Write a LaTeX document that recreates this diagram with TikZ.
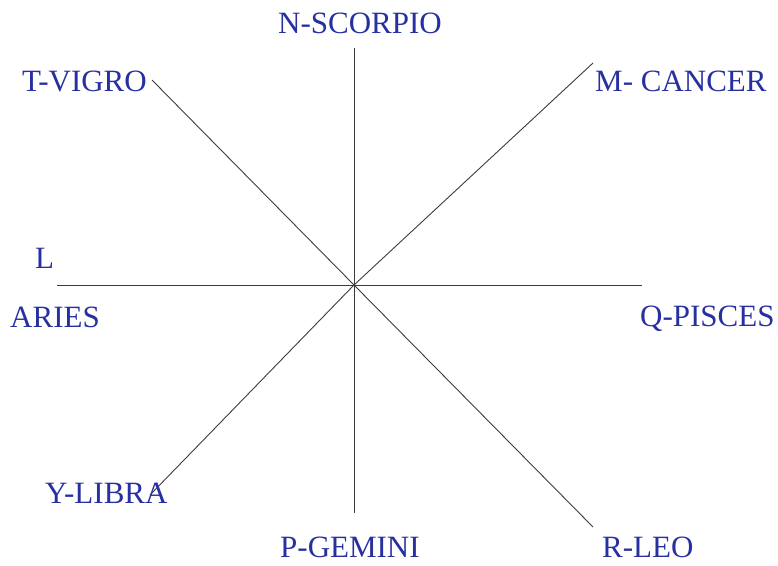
\documentclass[tikz,border=0pt]{standalone}
\usepackage{fontspec}
\setmainfont{Liberation Serif}
\definecolor{lbl}{RGB}{38,48,160}
\definecolor{ln}{RGB}{60,60,60}
\begin{document}
\begin{tikzpicture}[x=1pt,y=-1pt,
  lab/.style={anchor=base west,inner sep=0pt,text=lbl,font=\fontsize{31}{36}\selectfont},
  spoke/.style={draw=ln,line width=0.9pt}]
\useasboundingbox (0,0) rectangle (778,565);
\coordinate (c) at (354,285);
\coordinate (eN) at (354,48);
\coordinate (eS) at (354,513);
\coordinate (eW) at (57,285);
\coordinate (eE) at (642,285);
\coordinate (eNW) at (152,80);
\coordinate (eNE) at (593,63);
\coordinate (eSW) at (150,495);
\coordinate (eSE) at (593,527);
\foreach \e in {eN,eS,eW,eE,eNW,eNE,eSW,eSE} \draw[spoke] (c) -- (\e);
\node[lab] (n) at (278,33) {N-SCORPIO};
\node[lab] (t) at (22,91) {T-VIGRO};
\node[lab] (m) at (595,91) {M- CANCER};
\node[lab] (l) at (35,268) {L};
\node[lab] (a) at (10,327) {ARIES};
\node[lab] (q) at (640,326) {Q-PISCES};
\node[lab] (y) at (45,503) {Y-LIBRA};
\node[lab] (p) at (280,557) {P-GEMINI};
\node[lab] (r) at (602,557) {R-LEO};
\end{tikzpicture}
\end{document}
